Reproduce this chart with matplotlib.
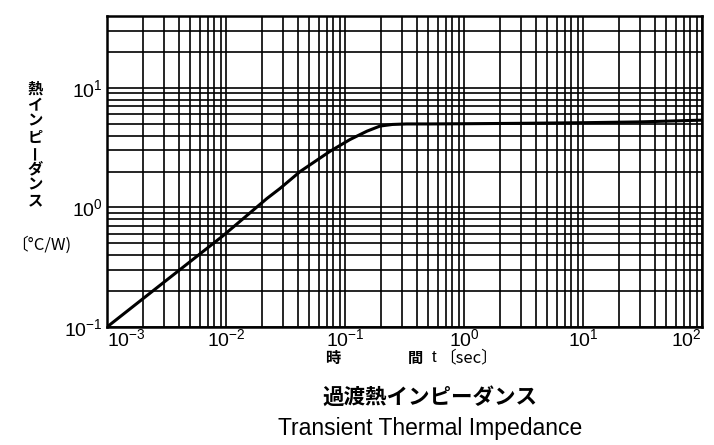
import matplotlib
matplotlib.use("Agg")
import matplotlib.pyplot as plt
from matplotlib.ticker import LogLocator, NullFormatter
import numpy as np

# Data (transient thermal impedance curve)
t_sec = [0.001, 0.0025, 0.004, 0.00944, 0.0221, 0.0285, 0.042, 0.0748, 0.11, 0.153, 0.197, 0.25, 0.33, 0.518, 1.0, 3.0, 10.0, 30.0, 100.0]
z_cw = [0.1, 0.205, 0.296, 0.58, 1.19, 1.445, 2.0, 2.95, 3.7, 4.35, 4.8, 4.95, 5.0, 5.0, 5.02, 5.06, 5.12, 5.2, 5.38]

x_ticks = [1e-3, 1e-2, 1e-1, 1e0, 1e1, 1e2]
x_tick_labels = [r"$10^{-3}$", r"$10^{-2}$", r"$10^{-1}$", r"$10^{0}$", r"$10^{1}$", r"$10^{2}$"]
y_ticks = [1e-1, 1e0, 1e1]
y_tick_labels = [r"$10^{-1}$", r"$10^{0}$", r"$10^{1}$"]

plt.rcParams['mathtext.fontset'] = 'custom'
plt.rcParams['mathtext.rm'] = 'Liberation Sans'
plt.rcParams['mathtext.it'] = 'Liberation Sans'
jp = ['Noto Sans CJK JP', 'DejaVu Sans']

W, H = 714, 445
fig = plt.figure(figsize=(W/100, H/100), dpi=100)
ax = fig.add_axes([107/W, 1-327/H, (702-107)/W, (327-16)/H])
ax.set_xscale('log')
ax.set_yscale('log')
ax.set_xlim(1e-3, 1e2)
ax.set_ylim(1e-1, 40)

ax.xaxis.set_minor_locator(LogLocator(base=10, subs=np.arange(2, 10)))
ax.yaxis.set_minor_locator(LogLocator(base=10, subs=np.arange(2, 10)))
ax.xaxis.set_minor_formatter(NullFormatter())
ax.yaxis.set_minor_formatter(NullFormatter())
ax.set_xticks(x_ticks)
ax.set_xticklabels(x_tick_labels, fontsize=14)
ax.set_yticks(y_ticks)
ax.set_yticklabels(y_tick_labels, fontsize=14)
ax.tick_params(which='both', length=0)
ax.tick_params(axis='x', pad=1)
ax.tick_params(axis='y', pad=3)
xl = ax.get_xticklabels()
xl[0].set_ha('left')
xl[-1].set_ha('right')

ax.grid(True, which='both', color='black', linewidth=1.2)
for s in ax.spines.values():
    s.set_linewidth(1.8)

ax.plot(t_sec, z_cw, color='black', linewidth=2.2, solid_capstyle='round',
        solid_joinstyle='round')

# x-axis label
ylab = 1 - 358/H
fig.text(333/W, ylab, "時", fontsize=11, fontweight='bold', family=jp, ha='center', va='center')
fig.text(415/W, ylab, "間", fontsize=11, fontweight='bold', family=jp, ha='center', va='center')
fig.text(434/W, ylab, "t", fontsize=12, family=['Liberation Sans'], ha='center', va='center')
fig.text(469/W, ylab, "〔sec〕", fontsize=12, family=jp, ha='center', va='center')

# y-axis label (vertical)
ychars = ["熱", "イ", "ン", "ピ", "ー", "ダ", "ン", "ス"]
y0 = 89
for i, ch in enumerate(ychars):
    yy = y0 + i * 15.9
    rot = 90 if ch == "ー" else 0
    fig.text(35/W, 1-yy/H, ch, fontsize=11, fontweight='bold', family=jp,
             ha='center', va='center', rotation=rot)
fig.text(41/W, 1-245/H, "〔°C/W)", fontsize=12, family=jp, ha='center', va='center')

# titles
fig.text(430/W, 1-397/H, "過渡熱インピーダンス", fontsize=15.5, fontweight='bold', family=jp, ha='center', va='center')
fig.text(430/W, 1-428/H, "Transient Thermal Impedance", fontsize=16.5, family=['Liberation Sans'], ha='center', va='center')

fig.savefig("out.png", dpi=100)
